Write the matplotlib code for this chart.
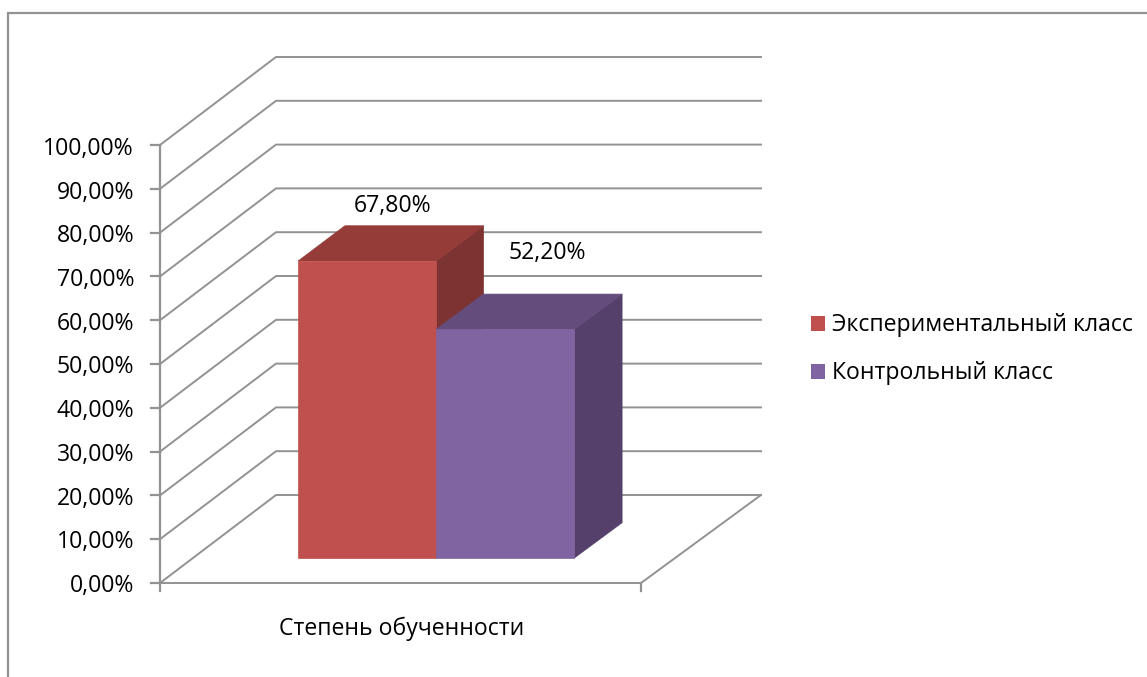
import matplotlib
matplotlib.use("Agg")
import matplotlib.pyplot as plt
from matplotlib.patches import Polygon, Patch

plt.rcParams['font.family'] = ['Open Sans', 'DejaVu Sans']

category = "Степень обученности"
series_names = ["Экспериментальный класс", "Контрольный класс"]
series_values = [67.8, 52.2]
value_labels = ["67,80%", "52,20%"]
tick_values = [0, 10, 20, 30, 40, 50, 60, 70, 80, 90, 100]
tick_labels = ["0,00%", "10,00%", "20,00%", "30,00%", "40,00%", "50,00%",
               "60,00%", "70,00%", "80,00%", "90,00%", "100,00%"]

FRONT = ["#C0504D", "#8064A2"]
TOP = ["#953C39", "#644C7C"]
SIDE = ["#7D3331", "#55406B"]
GRID = "#929292"
FS = 16.6

# oblique projection: x across (0-1), d depth (0-1), v value (%)
X0, Y0, W, PXV, DX, DY, WGROW = 160, 583, 481, 4.38, 116, 88, 4
def proj(x, d, v):
    return (X0 + x * (W + d * WGROW) + d * DX, Y0 - v * PXV - d * DY)

BAR_X0, BAR_W = 0.218, 0.2865
D0, D1 = 0.284, 0.685
LABEL_SHIFT = [(-22, -20), (-5, -41)]

fig = plt.figure(figsize=(11.47, 6.77), dpi=100)
ax = fig.add_axes([0, 0, 1, 1])
ax.set_xlim(0, 1147)
ax.set_ylim(677, 0)
ax.axis("off")

# outer frame
ax.plot([8, 8, 1147], [677, 13, 13], color=GRID, lw=1.6, solid_joinstyle="miter", clip_on=False)

# walls
for t, lab in zip(tick_values, tick_labels):
    pts = [proj(0, 0, t), proj(0, 1, t), proj(1, 1, t)]
    ax.plot(*zip(*pts), color=GRID, lw=1.4, zorder=1)
    a = proj(0, 0, t)
    ax.plot([a[0] - 9, a[0]], [a[1], a[1]], color=GRID, lw=1.6, zorder=1)
    ax.text(a[0] - 26, a[1] + 3 + t * 0.01, lab, ha="right", va="center", fontsize=FS, color="black")
ax.plot(*zip(proj(0, 0, 0), proj(0, 0, tick_values[-1])), color=GRID, lw=1.6, zorder=1)

# floor
floor = [proj(0, 0, 0), proj(1, 0, 0), proj(1, 1, 0)]
ax.plot(*zip(*floor), color=GRID, lw=1.4, zorder=1)
for x in (0, 1):
    p = proj(x, 0, 0)
    ax.plot([p[0], p[0]], [p[1], p[1] + 8], color=GRID, lw=1.6, zorder=1)
c = proj(0.5, 0, 0)
ax.text(c[0] + 1, 629, category, ha="center", va="center", fontsize=FS, color="black")

# bars
for i, v in enumerate(series_values):
    x0 = BAR_X0 + i * BAR_W
    x1 = x0 + BAR_W
    z = 2 + i
    ax.add_patch(Polygon([proj(x1, D0, 0), proj(x1, D1, 0), proj(x1, D1, v), proj(x1, D0, v)],
                         fc=SIDE[i], ec=SIDE[i], lw=0.5, zorder=z))
    ax.add_patch(Polygon([proj(x0, D0, v), proj(x1, D0, v), proj(x1, D1, v), proj(x0, D1, v)],
                         fc=TOP[i], ec=TOP[i], lw=0.5, zorder=z))
    ax.add_patch(Polygon([proj(x0, D0, 0), proj(x1, D0, 0), proj(x1, D0, v), proj(x0, D0, v)],
                         fc=FRONT[i], ec=FRONT[i], lw=0.5, zorder=z))
    top = proj((x0 + x1) / 2, D1, v)
    ax.text(top[0] + LABEL_SHIFT[i][0], top[1] + LABEL_SHIFT[i][1], value_labels[i],
            ha="center", va="center", fontsize=FS, color="black", zorder=6)

handles = [Patch(fc=FRONT[i], ec="none", label=series_names[i]) for i in range(2)]
ax.legend(handles=handles, loc="upper left", bbox_to_anchor=(804, 306.5), bbox_transform=ax.transData,
          frameon=False, fontsize=FS, handlelength=0.62, handleheight=0.62,
          handletextpad=0.3, labelspacing=1.03, borderpad=0.3, borderaxespad=0)

fig.savefig("out.png", dpi=100)
